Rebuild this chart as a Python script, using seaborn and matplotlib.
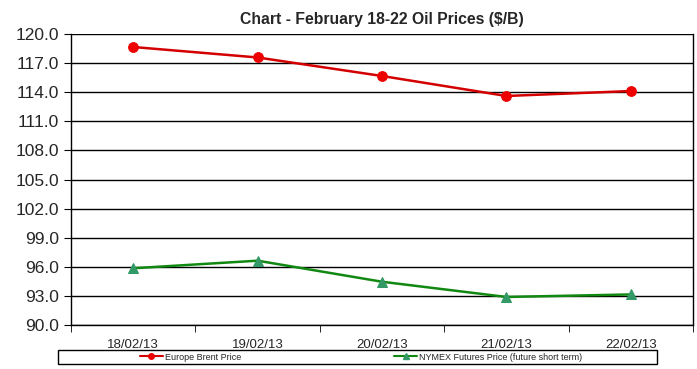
import pandas as pd
import seaborn as sns
import matplotlib.pyplot as plt
from matplotlib.ticker import MultipleLocator, FixedLocator
from matplotlib.patches import Rectangle

dates = ['18/02/13', '19/02/13', '20/02/13', '21/02/13', '22/02/13']
brent = [118.66, 117.58, 115.67, 113.61, 114.12]
nymex = [95.85, 96.63, 94.46, 92.89, 93.15]
series_names = ['Europe Brent Price', 'NYMEX Futures Price (future short term)']

df = pd.DataFrame({
    'Date': dates * 2,
    'Price': brent + nymex,
    'Series': [series_names[0]] * len(dates) + [series_names[1]] * len(dates),
})

sns.set_style('white')
plt.rcParams['font.family'] = ['Liberation Sans', 'DejaVu Sans']

fig = plt.figure(figsize=(6.97, 3.69), dpi=100)
ax = fig.add_axes([71 / 697, 1 - 325 / 369, (693 - 71) / 697, (325 - 34) / 369])

sns.lineplot(data=df, x='Date', y='Price', hue='Series', style='Series',
             palette={series_names[0]: '#d40000', series_names[1]: '#118811'},
             markers={series_names[0]: 'o', series_names[1]: '^'},
             dashes=False, markersize=7, linewidth=1.8, ax=ax, legend=False)
# marker colours a bit brighter than the lines
for line, mc in zip(ax.lines, ['#ee0000', '#339966']):
    line.set_markerfacecolor(mc)
    line.set_markeredgecolor(mc)

ax.set_xlim(-0.5, len(dates) - 0.5)
ax.set_ylim(90, 120)
ax.yaxis.set_major_locator(MultipleLocator(3))
ax.yaxis.set_major_formatter(plt.FormatStrFormatter('%.1f'))
ax.grid(axis='y', color='black', linewidth=1)
ax.set_axisbelow(True)
ax.xaxis.set_minor_locator(FixedLocator([i - 0.5 for i in range(len(dates) + 1)]))
ax.tick_params(axis='x', which='major', length=0, labelsize=9.5, pad=10)
ax.tick_params(axis='x', which='minor', length=5, color='black', direction='out', bottom=True)
ax.tick_params(axis='y', length=5, color='black', direction='out', left=True, labelsize=12.5)
ax.set_xlabel('')
ax.set_ylabel('')
for side in ['left', 'bottom', 'right']:
    ax.spines[side].set_color('black')
    ax.spines[side].set_linewidth(1)
ax.spines['top'].set_visible(False)

ax.set_title('Chart - February 18-22 Oil Prices ($/B)', fontsize=11.3, fontweight='bold', pad=7)

# legend box (Excel style) with entries centred inside
fig.add_artist(Rectangle((58 / 697, 1 - 364 / 369), (657 - 58) / 697, 14 / 369,
                         transform=fig.transFigure, facecolor='white',
                         edgecolor='black', linewidth=1))
handles = [plt.Line2D([], [], color='#d40000', marker='o', markersize=4,
                      markerfacecolor='#ee0000', markeredgecolor='#ee0000', linewidth=1.5),
           plt.Line2D([], [], color='#118811', marker='^', markersize=4,
                      markerfacecolor='#339966', markeredgecolor='#339966', linewidth=1.5)]
fig.legend(handles, series_names, loc='center', ncol=2,
           bbox_to_anchor=(361 / 697, 1 - 357 / 369),
           fontsize=6.5, frameon=False, handlelength=2.5,
           handletextpad=0.2, columnspacing=17, borderpad=0, borderaxespad=0)

fig.savefig('out.png', dpi=100)
